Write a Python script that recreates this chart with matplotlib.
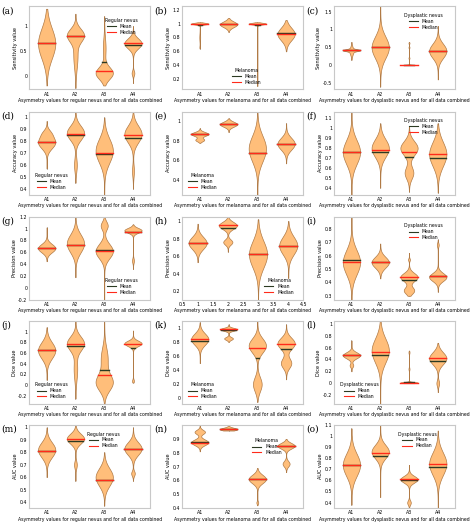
import numpy as np
import matplotlib
matplotlib.use('Agg')
import matplotlib.pyplot as plt
from matplotlib.lines import Line2D

GROUPS = ['A1', 'A2', 'A3', 'A4']
FILL, EDGE = '#FFBE7A', '#B07A45'
MEAN_C, MED_C = '#2b3a22', '#FF2A1A'

# each violin: (lo, hi, mean, median, [(mu, sigma, weight), ...])
sens_reg = [(-0.2, 1.35, .65, .65, [(0.65, 0.3, 1)]),
            (-0.25, 1.25, .8, .8, [(0.82, 0.13, 1), (0.4, 0.25, 0.25)]),
            (-0.2, 1.2, .28, .1, [(0.05, 0.12, 1), (0.55, 0.2, 0.15)]),
            (-0.15, 1.0, .62, .65, [(0.65, 0.1, 1), (0.05, 0.05, 0.15)])]
sens_mel = [(.64, 1.02, .98, 1, [(1, 0.012, 1), (0.8, 0.05, 0.04), (0.66, 0.02, 0.03)]),
            (.88, 1.08, .99, .99, [(0.99, 0.04, 1)]),
            (.1, 1.02, .98, 1, [(1, 0.012, 1), (0.3, 0.15, 0.01)]),
            (.6, 1.05, .86, .85, [(0.85, 0.09, 1)])]
sens_dys = [(.15, .65, .42, .42, [(0.42, 0.025, 1), (0.4, 0.1, 0.3)]),
            (-0.6, 1.65, .5, .5, [(0.5, 0.3, 1)]),
            (0, .65, .01, 0, [(0, 0.01, 1), (0.2, 0.02, 0.05), (0.5, 0.02, 0.05), (0.62, 0.02, 0.05)]),
            (-0.4, 1.1, .4, .4, [(0.4, 0.2, 1)])]
acc_reg = [(.57, .97, .79, .79, [(0.79, 0.05, 1), (0.87, 0.03, 0.3)]),
           (.45, 1.05, .85, .86, [(0.87, 0.06, 1), (0.6, 0.06, 0.15)]),
           (.35, 1.0, .69, .70, [(0.72, 0.1, 1)]),
           (.4, 1.05, .83, .85, [(0.86, 0.07, 1), (0.55, 0.05, 0.1)])]
acc_mel = [(.78, .93, .87, .87, [(0.87, 0.02, 1), (0.81, 0.015, 0.5)]),
           (.89, 1.03, .97, .97, [(0.97, 0.025, 1)]),
           (.25, 1.1, .68, .68, [(0.72, 0.13, 1)]),
           (.57, .98, .77, .77, [(0.77, 0.06, 1)])]
acc_dys = [(.32, 1.17, .76, .76, [(0.76, 0.12, 1)]),
           (.4, 1.05, .76, .78, [(0.8, 0.09, 1)]),
           (.36, 1.02, .71, .76, [(0.8, 0.07, 1), (0.55, 0.06, 0.5)]),
           (.35, 1.05, .70, .74, [(0.74, 0.12, 1)])]
prec_reg = [(.45, 1.02, .68, .68, [(0.67, 0.07, 1)]),
            (.18, 1.2, .72, .72, [(0.75, 0.15, 1)]),
            (-0.2, 1.2, .64, .62, [(0.62, 0.12, 1), (1.05, 0.07, 0.4)]),
            (.32, 1.07, .95, .95, [(0.97, 0.04, 1), (0.46, 0.04, 0.1)])]
prec_mel = [(.53, .97, .75, .75, [(0.75, 0.07, 1)]),
            (.65, 1.05, .92, .95, [(0.95, 0.04, 1), (0.76, 0.03, 0.5)]),
            (.1, 1.02, .62, .62, [(0.62, 0.15, 1)]),
            (.35, 1.0, .72, .72, [(0.72, 0.1, 1)])]
prec_dys = [(.27, .89, .57, .55, [(0.55, 0.09, 1)]),
            (.43, .69, .55, .55, [(0.55, 0.04, 1)]),
            (.3, .62, .42, .44, [(0.44, 0.03, 1), (0.34, 0.025, 0.6), (0.57, 0.01, 0.1)]),
            (.33, .72, .45, .45, [(0.44, 0.03, 1), (0.68, 0.015, 0.1)])]
dice_reg = [(.1, 1.08, .65, .65, [(0.65, 0.15, 1)]),
            (-0.25, 1.2, .74, .77, [(0.78, 0.13, 1), (0.3, 0.2, 0.2)]),
            (-0.35, 1.2, .28, .19, [(0.05, 0.15, 1), (0.5, 0.2, 0.4)]),
            (.05, 1.02, .69, .77, [(0.78, 0.05, 1), (0.08, 0.03, 0.1)])]
dice_mel = [(.5, 1.08, .82, .84, [(0.84, 0.08, 1)]),
            (.8, 1.05, .97, .98, [(0.98, 0.02, 1), (0.85, 0.02, 0.5)]),
            (-0.05, 1.1, .57, .71, [(0.75, 0.1, 1), (0.2, 0.1, 0.5)]),
            (.27, 1.05, .70, .77, [(0.78, 0.08, 1), (0.5, 0.07, 0.6)])]
dice_dys = [(.2, .72, .47, .47, [(0.47, 0.05, 1), (0.3, 0.03, 0.2)]),
            (-0.35, 1.05, .47, .53, [(0.55, 0.2, 1)]),
            (0, .55, .02, .01, [(0.01, 0.01, 1), (0.24, 0.02, 0.05), (0.52, 0.02, 0.05)]),
            (-0.15, .68, .37, .42, [(0.42, 0.1, 1), (0.0, 0.05, 0.15)])]
auc_reg = [(.6, 1.0, .81, .81, [(0.82, 0.06, 1)]),
           (.57, 1.05, .89, .91, [(0.91, 0.04, 1), (0.7, 0.03, 0.15)]),
           (.37, .8, .58, .58, [(0.6, 0.07, 1)]),
           (.57, 1.0, .83, .83, [(0.83, 0.05, 1), (0.63, 0.02, 0.2)])]
auc_mel = [(.81, 1.0, .88, .87, [(0.875, 0.02, 1), (0.95, 0.015, 0.6)]),
           (.96, 1.0, .97, .97, [(0.97, 0.01, 1)]),
           (.42, .69, .61, .61, [(0.61, 0.03, 1), (0.44, 0.01, 0.1)]),
           (.66, .9, .85, .85, [(0.85, 0.02, 1), (0.72, 0.02, 0.4)])]
auc_dys = [(.38, 1.07, .74, .74, [(0.74, 0.1, 1)]),
           (.45, 1.1, .82, .85, [(0.86, 0.06, 1)]),
           (.35, .74, .6, .61, [(0.61, 0.03, 1), (0.4, 0.02, 0.2)]),
           (.35, 1.05, .72, .75, [(0.75, 0.1, 1)])]

XL = {'reg': 'Asymmetry values for regular nevus and for all data combined',
      'mel': 'Asymmetry values for melanoma and for all data combined',
      'dys': 'Asymmetry values for dysplastic nevus and for all data combined'}
LEG = {'reg': 'Regular nevus', 'mel': 'Melanoma', 'dys': 'Dysplastic nevus'}

# (letter, data, kind, ylabel, ylim, yticks, legend loc)
panels = [
    ('a', sens_reg, 'reg', 'Sensitivity value', (-0.28, 1.4), [0, 0.5, 1], (0.6, 0.62)),
    ('b', sens_mel, 'mel', 'Sensitivity value', (0.05, 1.25), [0.2, 0.4, 0.6, 0.8, 1, 1.2], (0.38, 0.02)),
    ('c', sens_dys, 'dys', 'Sensitivity value', (-0.68, 1.65), [-0.5, 0, 0.5, 1, 1.5], (0.55, 0.68)),
    ('d', acc_reg, 'reg', 'Accuracy value', (0.35, 1.05), np.arange(0.4, 1.01, 0.1), (0.02, 0.02)),
    ('e', acc_mel, 'mel', 'Accuracy value', (0.25, 1.1), [0.4, 0.6, 0.8, 1], (0.02, 0.02)),
    ('f', acc_dys, 'dys', 'Accuracy value', (0.33, 1.17), np.arange(0.4, 1.11, 0.1), (0.55, 0.68)),
    ('g', prec_reg, 'reg', 'Precision value', (-0.2, 1.2), np.arange(-0.2, 1.21, 0.2), (0.6, 0.02)),
    ('h', prec_mel, 'mel', 'Precision value', (0.1, 1.05), [0.2, 0.4, 0.6, 0.8, 1], (0.65, 0.02)),
    ('i', prec_dys, 'dys', 'Precision value', (0.27, 0.89), np.arange(0.3, 0.81, 0.1), (0.55, 0.68)),
    ('j', dice_reg, 'reg', 'Dice value', (-0.35, 1.2), np.arange(-0.2, 1.01, 0.2), (0.02, 0.02)),
    ('k', dice_mel, 'mel', 'Dice value', (-0.08, 1.1), np.arange(0, 1.01, 0.2), (0.02, 0.02)),
    ('l', dice_dys, 'dys', 'Dice value', (-0.35, 1.05), np.arange(-0.2, 1.01, 0.2), (0.02, 0.02)),
    ('m', auc_reg, 'reg', 'AUC value', (0.35, 1.02), np.arange(0.4, 1.01, 0.1), (0.45, 0.68)),
    ('n', auc_mel, 'mel', 'AUC value', (0.4, 1.0), np.arange(0.4, 0.91, 0.1), (0.55, 0.6)),
    ('o', auc_dys, 'dys', 'AUC value', (0.35, 1.1), np.arange(0.4, 1.11, 0.1), (0.5, 0.68)),
]

plt.rcParams['font.family'] = 'DejaVu Sans'
fig = plt.figure(figsize=(4.74, 5.26), dpi=100)
lefts = [0.062, 0.385, 0.705]
bottoms = [0.83, 0.63, 0.43, 0.232, 0.034]

def density(y, comps):
    y = np.asarray(y, dtype=float)
    d = np.zeros_like(y)
    for mu, s, w in comps:
        d += w * np.exp(-0.5 * ((y - mu) / s) ** 2)
    return d

for i, (letter, data, kind, ylab, ylim, yticks, lloc) in enumerate(panels):
    r, c = divmod(i, 3)
    ax = fig.add_axes([lefts[c], bottoms[r], 0.255, 0.158])
    for k, (lo, hi, mean, med, comps) in enumerate(data):
        x = k + 1
        y = np.linspace(lo, hi, 300)
        d = density(y, comps)
        d = d + 0.01 * d.max()
        scale = 0.3 / d.max()
        ax.plot([x, x], [lo, hi], color='#999999', lw=0.5, zorder=1)
        ax.fill_betweenx(y, x - d * scale, x + d * scale, facecolor=FILL,
                         edgecolor=EDGE, lw=0.5, zorder=2)
        for val, col in ((mean, MEAN_C), (med, MED_C)):
            w = density([val], comps)[0] * scale + 0.004
            ax.plot([x - w, x + w], [val, val], color=col, lw=1.0, zorder=3)
    ax.set_ylim(*ylim)
    ax.set_yticks(yticks)
    ax.set_yticklabels([f'{t:g}' for t in np.round(yticks, 2)])
    if letter == 'h':
        ax.set_xlim(0.5, 4.5)
        ax.set_xticks(np.arange(0.5, 4.51, 0.5))
        ax.set_xticklabels([f'{t:g}' for t in np.arange(0.5, 4.51, 0.5)])
    else:
        ax.set_xlim(0.4, 4.6)
        ax.set_xticks([1, 2, 3, 4])
        ax.set_xticklabels(GROUPS)
    ax.tick_params(labelsize=3.4, length=0, pad=1.5)
    for sp in ax.spines.values():
        sp.set_color('#c8c8c8')
        sp.set_linewidth(0.8)
    ax.set_ylabel(ylab, fontsize=3.6, labelpad=1)
    ax.set_xlabel(XL[kind], fontsize=3.3, labelpad=1)
    ax.text(-0.23, 1.0, f'({letter})', transform=ax.transAxes, fontsize=6.5,
            family='DejaVu Serif', va='top')
    handles = [Line2D([], [], color=MEAN_C, lw=0.8, label='Mean'),
               Line2D([], [], color=MED_C, lw=0.8, label='Median')]
    ax.legend(handles=handles, title=LEG[kind], loc='lower left', bbox_to_anchor=lloc,
              fontsize=3.3, title_fontsize=3.3, frameon=False, handlelength=2,
              labelspacing=0.2, borderpad=0.2)

fig.savefig('out.png', dpi=100, facecolor='white')
